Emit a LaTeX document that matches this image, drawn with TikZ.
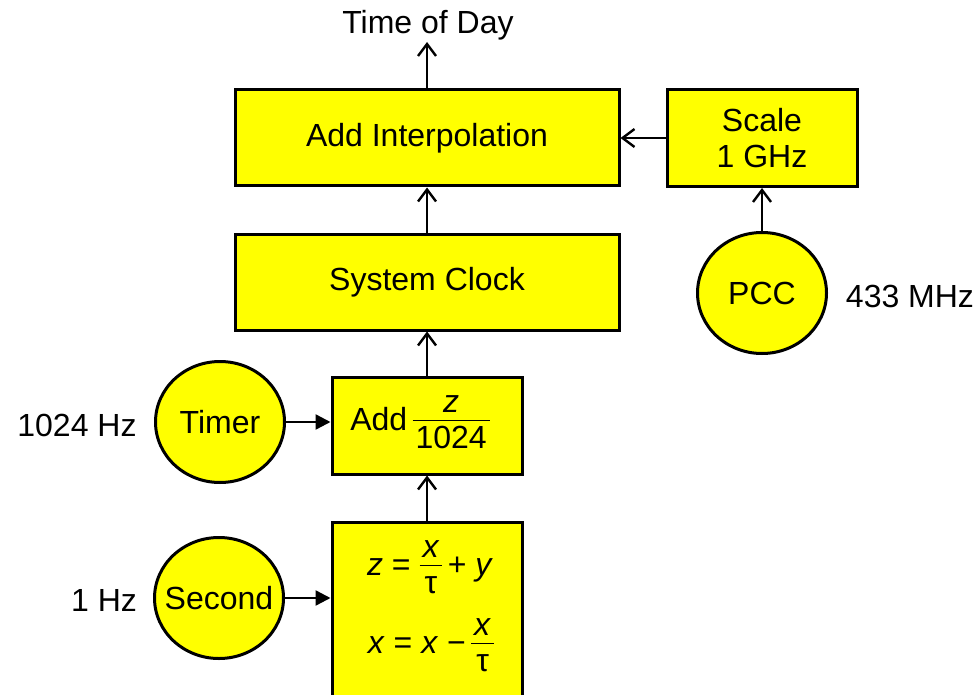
\documentclass[tikz,border=0pt]{standalone}
\usepackage{fontspec}
\setmainfont{Liberation Sans}
\usetikzlibrary{arrows.meta,shapes.geometric}
\definecolor{boxyellow}{RGB}{255,255,0}
% stacked fraction set in the text font
\newcommand\stfrac[2]{$\vcenter{\hbox{\setlength\arrayrulewidth{1.3pt}%
  \renewcommand\arraystretch{0.9}%
  \begin{tabular}{@{\hspace{3pt}}c@{\hspace{3pt}}}#1\\[-2pt]\hline\noalign{\vskip 5pt}#2\end{tabular}}}$}
% label of fixed-size ellipse: no width of its own
\newcommand\fixlabel[1]{\makebox[0pt]{#1}}
\begin{document}
\begin{tikzpicture}[x=1pt,y=-1pt,
  font=\fontsize{32}{36}\selectfont,
  block/.style={draw, fill=boxyellow, line width=3pt, inner sep=0pt, align=center},
  source/.style={ellipse, draw, fill=boxyellow, line width=3pt,
    minimum width=129pt, minimum height=121pt, inner sep=0pt},
  flow/.style={line width=2.4pt, -{Straight Barb[length=12pt,width=18pt,line width=2.4pt]}},
  feed/.style={line width=2.4pt, -{Triangle[length=15pt,width=15pt]}}
]
\useasboundingbox (0,0) rectangle (979,695);
\clip (0,0) rectangle (979,695);

% output of the chain
\node (tod) at (428,25) {Time of Day};
\coordinate (out) at (427,42);

% main blocks
\node[block, minimum width=384pt, minimum height=96pt] (interp) at (427,138) {Add Interpolation};
\node[block, minimum width=190pt, minimum height=97pt] (scale) at (762,138) {Scale\\1 GHz};
\node[block, minimum width=384pt, minimum height=96pt] (sys) at (427,282) {System Clock};
\node[block, minimum width=190pt, minimum height=97pt] (addz) at (427,425.5) {};
\node at (420,424) {Add\,\stfrac{\textit{z}}{1024}};
\node[block, minimum width=190pt, minimum height=206pt] (upd) at (427,625) {};
\node (eqa) at (430,569) {\textit{z}\;=\;\stfrac{\textit{x}}{τ}\,+\;\textit{y}};
\node (eqb) at (431,647) {\textit{x}\;=\;\textit{x}\;−\,\stfrac{\textit{x}}{τ}};

% oscillators
\node[source] (pcc) at (762,293) {\fixlabel{PCC}};
\node (fpcc) at (910,296) {433 MHz};
\node[source] (timer) at (220,422) {\fixlabel{Timer}};
\node (ftimer) at (77,425) {1024 Hz};
\node[source] (second) at (219,598) {\fixlabel{Second}};
\node (fsecond) at (104,600) {1 Hz};

% connectors
\draw[flow] (interp.north) -- (out);
\draw[flow] (scale.west) -- (interp.east);
\draw[flow] (pcc.north) -- (scale.south);
\draw[flow] (sys.north) -- (interp.south);
\draw[flow] (addz.north) -- (sys.south);
\draw[flow] (upd.north) -- (addz.south);
\draw[feed] (timer.east) -- (timer.east -| addz.west);
\draw[feed] (second.east) -- (second.east -| upd.west);
\end{tikzpicture}
\end{document}
